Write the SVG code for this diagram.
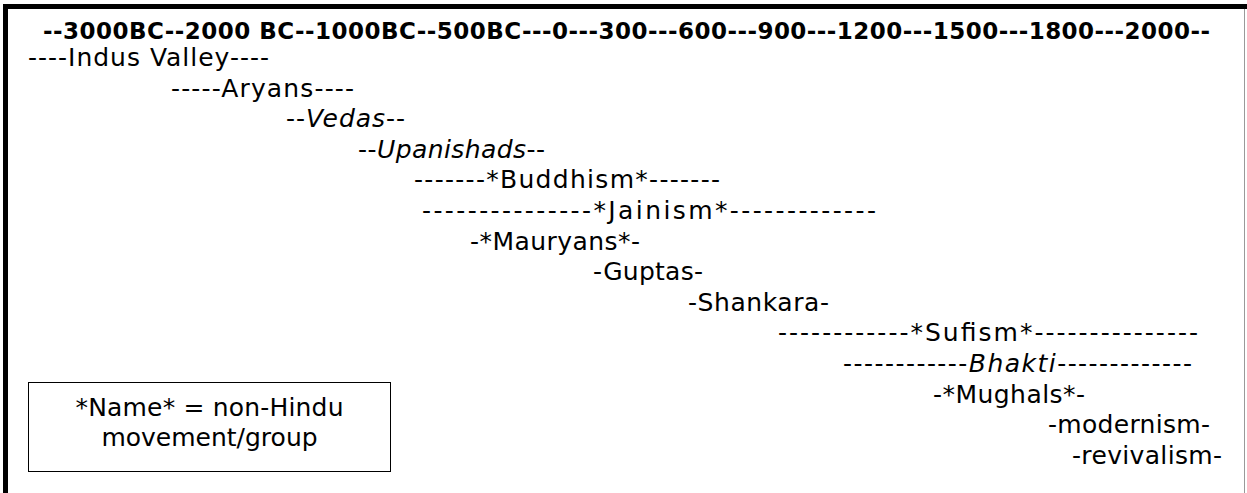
<svg xmlns="http://www.w3.org/2000/svg" width="1247" height="493" viewBox="0 0 1247 493">
<style>
.t{font-family:"DejaVu Sans","Verdana",sans-serif;font-size:25px;fill:#000}
.h{font-weight:bold;font-size:23px}
.i{font-style:italic}
</style>
<rect x="0" y="0" width="1247" height="493" fill="#fff"/>
<g id="frame">
<rect x="3" y="4" width="1244" height="5" fill="#000"/>
<rect x="3" y="4" width="5" height="489" fill="#000"/>
<line x1="1244.5" y1="9" x2="1244.5" y2="493" stroke="#999" stroke-width="1"/>
</g>
<g id="header"><text class="t h" x="43" y="39" textLength="1167">--3000BC--2000 BC--1000BC--500BC---0---300---600---900---1200---1500---1800---2000--</text></g>
<g id="indus"><text class="t" x="28" y="66" textLength="241">----Indus Valley----</text></g>
<g id="aryans"><text class="t" x="171" y="97" textLength="183">-----Aryans----</text></g>
<g id="vedas"><text class="t" x="286" y="127" textLength="119">--<tspan class="i">Vedas</tspan>--</text></g>
<g id="upanishads"><text class="t" x="358" y="158" textLength="187">--<tspan class="i">Upanishads</tspan>--</text></g>
<g id="buddhism"><text class="t" x="414" y="188" textLength="306">-------*Buddhism*-------</text></g>
<g id="jainism"><text class="t" x="422" y="219" textLength="454">---------------*Jainism*-------------</text></g>
<g id="mauryans"><text class="t" x="470" y="250" textLength="170">-*Mauryans*-</text></g>
<g id="guptas"><text class="t" x="593" y="280" textLength="110">-Guptas-</text></g>
<g id="shankara"><text class="t" x="688" y="311" textLength="141">-Shankara-</text></g>
<g id="sufism"><text class="t" x="778" y="341" textLength="420">------------*Sufism*---------------</text></g>
<g id="bhakti"><text class="t" x="843" y="372" textLength="349">------------<tspan class="i">Bhakti</tspan>-------------</text></g>
<g id="mughals"><text class="t" x="933" y="403" textLength="152">-*Mughals*-</text></g>
<g id="modernism"><text class="t" x="1048" y="433" textLength="162">-modernism-</text></g>
<g id="revivalism"><text class="t" x="1072" y="464" textLength="150">-revivalism-</text></g>
<g id="legend">
<rect x="28.5" y="382.5" width="362" height="89" fill="#fff" stroke="#000" stroke-width="1"/>
<text class="t" x="209.5" y="416" text-anchor="middle" textLength="268">*Name* = non-Hindu</text>
<text class="t" x="209.5" y="446" text-anchor="middle">movement/group</text>
</g>
</svg>
